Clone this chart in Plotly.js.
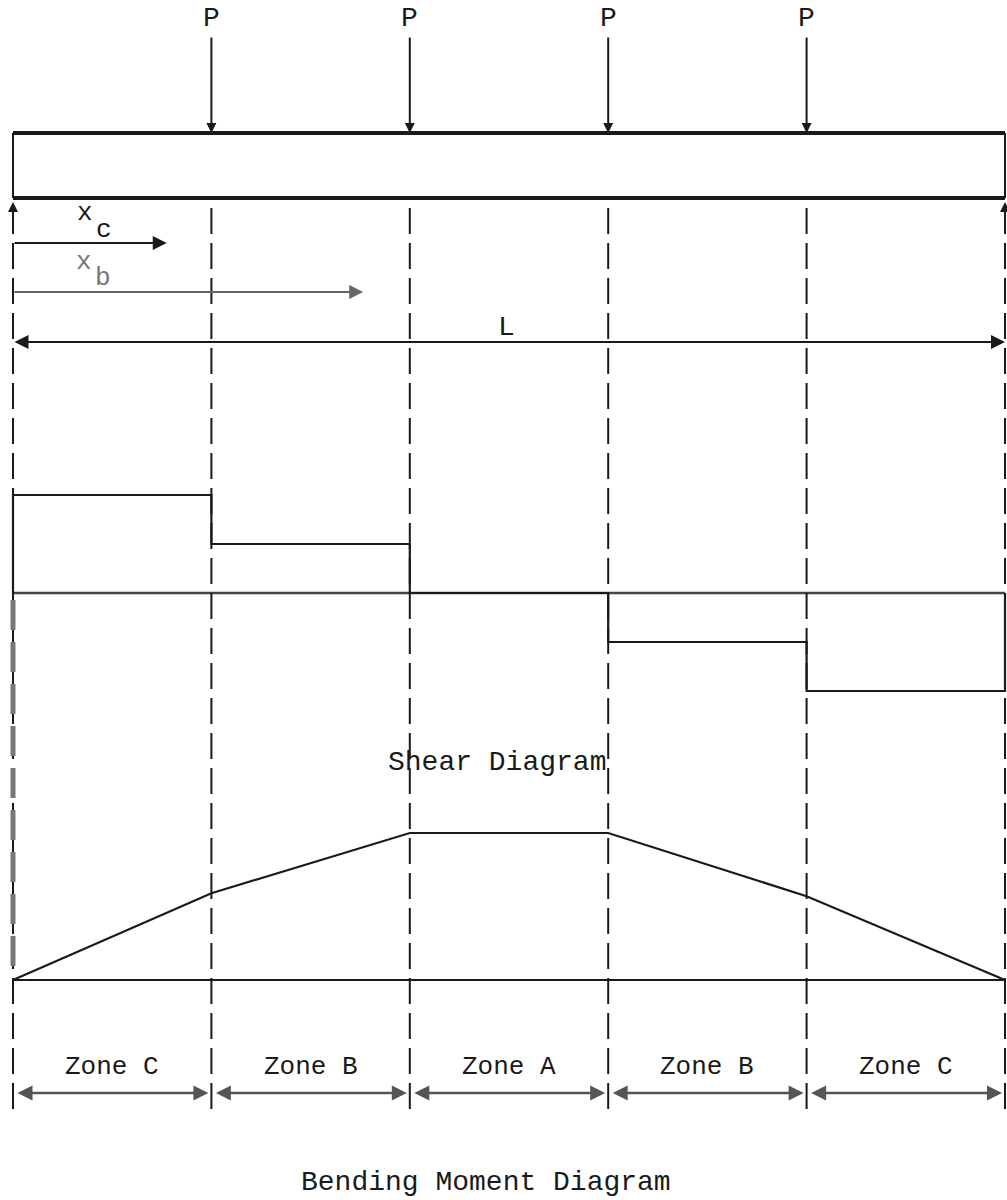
<!DOCTYPE html>
<html>
<head>
<meta charset="utf-8">
<script src="https://cdn.plot.ly/plotly-3.0.1.min.js"></script>
<style>
  html, body { margin: 0; padding: 0; background: #ffffff; }
  #chart { width: 1007px; height: 1200px; }
</style>
</head>
<body>
<div id="chart"></div>
<script>
// ---- Data (positions are fractions of span L) ----
const loadPositions = [0.2, 0.4, 0.6, 0.8];
const loadLabels = ['P', 'P', 'P', 'P'];
const zoneBoundaries = [0, 0.2, 0.4, 0.6, 0.8, 1.0];
const zoneLabels = ['Zone C', 'Zone B', 'Zone A', 'Zone B', 'Zone C'];
const shearValues = [2, 1, 0, -1, -2];                 // in units of P, per zone
const momentX = [0, 0.2, 0.4, 0.6, 0.8, 1.0];
const momentValues = [0, 0.59, 1.0, 1.0, 0.57, 0];     // relative to max moment
const dimensionLabels = ['x', 'x', 'L'];
const dimensionSubs = ['c', 'b', ''];
const dimensionEnds = [0.155, 0.353, 1.0];
const diagramTitles = ['Shear Diagram', 'Bending Moment Diagram'];

// ---- Layout constants (page geometry) ----
const W = 1007, H = 1200;
const xLeftPx = 13, xRightPx = 1005;
const spanPx = xRightPx - xLeftPx;
const FONT = '"Liberation Mono", "DejaVu Sans Mono", monospace';
const INK = '#1a1a1a';

// shear axis: zero at 593 px, 49 px per unit
const shearZeroPx = 593, shearScale = 49;
// moment axis: zero at 980 px, 147 px per unit
const momZeroPx = 980, momScale = 147;

// ---- Build shear step outline from the zone values ----
const shX = [zoneBoundaries[0]], shY = [0];
shearValues.forEach((v, i) => {
  shX.push(zoneBoundaries[i], zoneBoundaries[i + 1]);
  shY.push(v, v);
});
shX.push(zoneBoundaries[zoneBoundaries.length - 1]);
shY.push(0);

const traces = [
  { x: [zoneBoundaries[0], zoneBoundaries[zoneBoundaries.length - 1]], y: [0, 0],
    yaxis: 'y2', mode: 'lines', line: { color: '#444', width: 2.5 }, hoverinfo: 'skip' },
  { x: shX, y: shY, yaxis: 'y2', mode: 'lines', line: { color: INK, width: 2.2 }, hoverinfo: 'skip' },
  { x: [zoneBoundaries[0], zoneBoundaries[zoneBoundaries.length - 1]], y: [0, 0],
    yaxis: 'y3', mode: 'lines', line: { color: INK, width: 2.2 }, hoverinfo: 'skip' },
  { x: momentX, y: momentValues, yaxis: 'y3', mode: 'lines', line: { color: INK, width: 2.2 }, hoverinfo: 'skip' }
];

// ---- Shapes ----
const beamTop = 133, beamBot = 198;
const shapes = [];
// beam outline
shapes.push({ type: 'line', xref: 'x', yref: 'y', x0: 0, x1: 1, y0: beamTop, y1: beamTop, line: { color: INK, width: 4 } });
shapes.push({ type: 'line', xref: 'x', yref: 'y', x0: 0, x1: 1, y0: beamBot, y1: beamBot, line: { color: INK, width: 4 } });
shapes.push({ type: 'line', xref: 'x', yref: 'y', x0: 0, x1: 0, y0: beamTop, y1: beamBot, line: { color: INK, width: 2 } });
shapes.push({ type: 'line', xref: 'x', yref: 'y', x0: 1, x1: 1, y0: beamTop, y1: beamBot, line: { color: INK, width: 2 } });
// dashed projection lines
zoneBoundaries.forEach((b) => {
  shapes.push({ type: 'line', xref: 'x', yref: 'y', x0: b, x1: b, y0: 208, y1: 1117,
    line: { color: INK, width: 2, dash: '26px,9px' } });
});
// heavier grey left edge in the lower part
shapes.push({ type: 'line', xref: 'x', yref: 'y', x0: 0, x1: 0, y0: 600, y1: 975,
  line: { color: '#777', width: 5, dash: '30px,12px' } });

// ---- Annotations ----
const ann = [];
loadPositions.forEach((p, i) => {
  ann.push({ x: p, y: 18, xref: 'x', yref: 'y', text: loadLabels[i], showarrow: false,
    font: { family: FONT, size: 28, color: INK } });
  ann.push({ x: p, y: beamTop, ax: p, ay: 36, xref: 'x', yref: 'y', axref: 'x', ayref: 'y',
    text: '', showarrow: true, arrowhead: 2, arrowsize: 1, arrowwidth: 2, arrowcolor: INK, standoff: 0 });
});
// support reactions (small upward arrows)
[0, 1].forEach((p) => {
  ann.push({ x: p, y: 202, ax: p, ay: 226, xref: 'x', yref: 'y', axref: 'x', ayref: 'y',
    text: '', showarrow: true, arrowhead: 2, arrowsize: 1, arrowwidth: 2, arrowcolor: INK, standoff: 0 });
});
// dimension arrows x_c, x_b, L
const dimY = [243, 292, 342];
const dimColors = [INK, '#666', INK];
const dimLabelY = [213, 262, 327];
dimensionEnds.forEach((e, i) => {
  const both = dimensionSubs[i] === '';
  ann.push({ x: e, y: dimY[i], ax: 0, ay: dimY[i], xref: 'x', yref: 'y', axref: 'x', ayref: 'y',
    text: '', showarrow: true, arrowhead: 2, arrowsize: 1.4, arrowwidth: 2,
    arrowside: both ? 'end+start' : 'end', arrowcolor: dimColors[i], standoff: 0, startstandoff: 0 });
});
ann.push({ x: (85 - xLeftPx) / spanPx, y: dimLabelY[0], xref: 'x', yref: 'y', text: dimensionLabels[0], showarrow: false,
  font: { family: FONT, size: 26, color: INK } });
ann.push({ x: (104 - xLeftPx) / spanPx, y: dimLabelY[0] + 17, xref: 'x', yref: 'y', text: dimensionSubs[0], showarrow: false,
  font: { family: FONT, size: 26, color: INK } });
ann.push({ x: (84 - xLeftPx) / spanPx, y: dimLabelY[1], xref: 'x', yref: 'y', text: dimensionLabels[1], showarrow: false,
  font: { family: FONT, size: 26, color: '#777' } });
ann.push({ x: (103 - xLeftPx) / spanPx, y: dimLabelY[1] + 16, xref: 'x', yref: 'y', text: dimensionSubs[1], showarrow: false,
  font: { family: FONT, size: 26, color: '#777' } });
ann.push({ x: (506 - xLeftPx) / spanPx, y: dimLabelY[2], xref: 'x', yref: 'y', text: dimensionLabels[2], showarrow: false,
  font: { family: FONT, size: 28, color: INK } });

// zone labels and zone arrows
zoneLabels.forEach((z, i) => {
  const a = zoneBoundaries[i], b = zoneBoundaries[i + 1];
  ann.push({ x: (a + b) / 2, y: 1067, xref: 'x', yref: 'y', text: z, showarrow: false,
    font: { family: FONT, size: 26, color: INK } });
  ann.push({ x: b, y: 1093, ax: a, ay: 1093, xref: 'x', yref: 'y', axref: 'x', ayref: 'y',
    text: '', showarrow: true, arrowhead: 2, arrowsize: 1.2, arrowwidth: 2.5, arrowside: 'end+start',
    arrowcolor: '#555', standoff: 3, startstandoff: 3 });
});

// diagram titles
ann.push({ x: (497 - xLeftPx) / spanPx, y: 762, xref: 'x', yref: 'y', text: diagramTitles[0], showarrow: false,
  font: { family: FONT, size: 28, color: INK } });
ann.push({ x: (486 - xLeftPx) / spanPx, y: 1182, xref: 'x', yref: 'y', text: diagramTitles[1], showarrow: false,
  font: { family: FONT, size: 28, color: INK } });

const layout = {
  width: W, height: H,
  margin: { l: 0, r: 0, t: 0, b: 0, pad: 0 },
  paper_bgcolor: '#ffffff', plot_bgcolor: '#ffffff',
  showlegend: false,
  xaxis: { range: [-xLeftPx / spanPx, (W - xLeftPx) / spanPx], visible: false, fixedrange: true },
  yaxis: { range: [H, 0], visible: false, fixedrange: true, domain: [0, 1] },
  yaxis2: { overlaying: 'y', visible: false, fixedrange: true,
    range: [(shearZeroPx - H) / shearScale, shearZeroPx / shearScale] },
  yaxis3: { overlaying: 'y', visible: false, fixedrange: true,
    range: [(momZeroPx - H) / momScale, momZeroPx / momScale] },
  shapes: shapes,
  annotations: ann
};

Plotly.newPlot('chart', traces, layout, { displayModeBar: false, staticPlot: true });
</script>
</body>
</html>
